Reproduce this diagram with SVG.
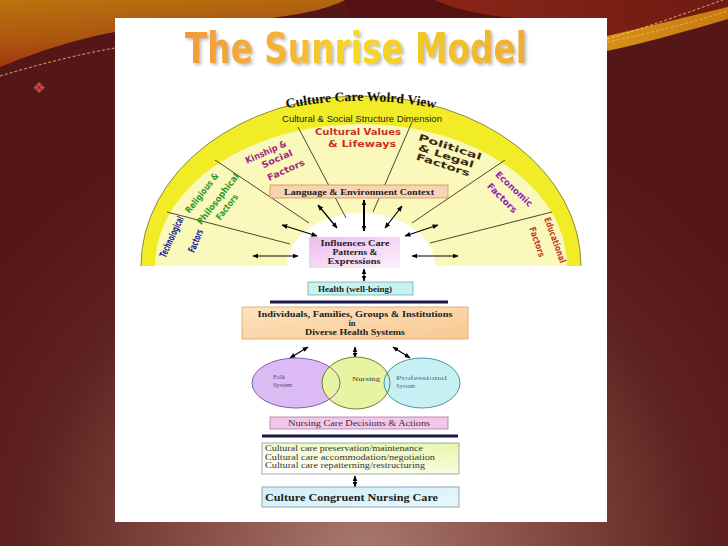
<svg xmlns="http://www.w3.org/2000/svg" width="728" height="546" viewBox="0 0 728 546">
<defs>
<radialGradient id="gBase" cx="364" cy="560" r="470" gradientUnits="userSpaceOnUse">
<stop offset="0" stop-color="#a87a70"/><stop offset="0.35" stop-color="#8a4e48"/><stop offset="0.72" stop-color="#5e2220"/><stop offset="1" stop-color="#541616"/>
</radialGradient>
<linearGradient id="gOrange" x1="0" y1="0" x2="0.3" y2="1">
<stop offset="0" stop-color="#b8740e"/><stop offset="0.6" stop-color="#ac5410"/><stop offset="1" stop-color="#a03010"/>
</linearGradient>
<linearGradient id="gRed" x1="0" y1="0" x2="1" y2="0">
<stop offset="0" stop-color="#8a2618"/><stop offset="1" stop-color="#6e1a12"/>
</linearGradient>
<linearGradient id="gBand" x1="0" y1="0" x2="1" y2="0">
<stop offset="0" stop-color="#d8901a"/><stop offset="1" stop-color="#c87a10"/>
</linearGradient>
<linearGradient id="gTitle" x1="185" y1="0" x2="527" y2="0" gradientUnits="userSpaceOnUse">
<stop offset="0" stop-color="#f29a3c"/><stop offset="0.3" stop-color="#f6b434"/><stop offset="0.5" stop-color="#f8d824"/><stop offset="0.75" stop-color="#f2c428"/><stop offset="1" stop-color="#eeac36"/>
</linearGradient>
<linearGradient id="gPink" x1="0" y1="0" x2="1" y2="1">
<stop offset="0" stop-color="#eebcee"/><stop offset="1" stop-color="#fcf2fc"/>
</linearGradient>
<linearGradient id="gPeach" x1="0" y1="0" x2="1" y2="1">
<stop offset="0" stop-color="#fde4c0"/><stop offset="1" stop-color="#f8c890"/>
</linearGradient>
<linearGradient id="gCare" x1="1" y1="0" x2="0.2" y2="1">
<stop offset="0" stop-color="#e8f6a8"/><stop offset="1" stop-color="#ffffff"/>
</linearGradient>
<linearGradient id="gCyan" x1="0" y1="0" x2="1" y2="1">
<stop offset="0" stop-color="#d0eef8"/><stop offset="1" stop-color="#e8f8fc"/>
</linearGradient>
<filter id="shadow" x="-10%" y="-30%" width="120%" height="160%">
<feDropShadow dx="2" dy="2" stdDeviation="1.5" flood-color="#888" flood-opacity="0.55"/>
</filter>
<marker id="ah" viewBox="0 0 10 10" refX="9" refY="5" markerWidth="6" markerHeight="6" markerUnits="userSpaceOnUse" orient="auto-start-reverse">
<path d="M0,1 L10,5 L0,9 Z" fill="#000"/>
</marker>
<style>
.serifb{font-family:"Liberation Serif","DejaVu Serif",serif;font-weight:bold;fill:#222;}
.serif{font-family:"Liberation Serif","DejaVu Serif",serif;fill:#333;}
.fan{font-family:"DejaVu Sans","Liberation Sans",sans-serif;font-weight:bold;font-size:9px;text-anchor:middle;}
.spoke{stroke:#4a4a2a;stroke-width:1;fill:none;}
.arr{stroke:#000;stroke-width:1.2;fill:none;marker-start:url(#ah);marker-end:url(#ah);}
.small{font-family:"Liberation Serif","DejaVu Serif",serif;font-size:6.5px;}
</style>
</defs>

<!-- slide background -->
<rect x="0" y="0" width="728" height="546" fill="url(#gBase)"/>
<path d="M0,0 H345 C330,8 300,16 250,20 C190,24 150,27 115,32 C70,40 30,55 0,67 Z" fill="url(#gOrange)"/>
<path d="M345,0 H435 C455,9 480,15 515,18 H352 C349,10 347,5 345,0 Z" fill="#551212"/>
<path d="M435,0 H728 V8 C690,18 650,28 607,36 L560,22 C530,19 515,18 515,18 C480,15 455,9 435,0 Z" fill="url(#gRed)"/>
<path d="M607,36 C650,26 690,16 728,7 V19 C690,30 650,42 607,51 Z" fill="url(#gBand)"/>
<path d="M0,76 C40,64 80,54 115,48" stroke="#f0c868" stroke-width="0.8" stroke-dasharray="3 2" fill="none"/>
<path d="M607,39 C650,26 690,12 728,-2" stroke="#f0d070" stroke-width="0.8" stroke-dasharray="3 2" fill="none"/>
<path d="M607,42 C660,31 700,20 728,11" stroke="#f0d070" stroke-width="0.7" stroke-dasharray="3 2" fill="none" opacity="0.8"/>
<text x="39" y="93" font-family="DejaVu Sans, sans-serif" font-size="15" fill="#d84444" text-anchor="middle">❖</text>

<!-- white panel -->
<rect x="115" y="18" width="492" height="504" fill="#ffffff"/>

<!-- title -->
<g id="title">
<text x="185" y="63" font-family="DejaVu Sans, sans-serif" font-weight="bold" font-size="42" textLength="342" lengthAdjust="spacingAndGlyphs" fill="url(#gTitle)" filter="url(#shadow)">The Sunrise Model</text>
</g>

<!-- sunrise fan -->
<g id="fan">
<path d="M141,266 A220,170 0 0 1 581,266 Z" fill="#f2ec26"/>
<path d="M141,266 A220,170 0 0 1 581,266" fill="none" stroke="#707030" stroke-width="0.8"/>
<path d="M155,266 A206,142 0 0 1 567,266 Z" fill="#fbf8bc"/>
<path d="M287,266 A74,53 0 0 1 435,266 Z" fill="#ffffff"/>
</g>

<g id="connectors">
<line class="spoke" x1="167" y1="212" x2="290" y2="244"/>
<line class="spoke" x1="215" y1="160" x2="309" y2="223"/>
<line class="spoke" x1="298" y1="127" x2="346" y2="218"/>
<line class="spoke" x1="412" y1="122" x2="373" y2="212"/>
<line class="spoke" x1="505" y1="160" x2="412" y2="223"/>
<line class="spoke" x1="552" y1="212" x2="430" y2="243"/>
<line class="arr" x1="253" y1="256" x2="298" y2="256"/>
<line class="arr" x1="282" y1="225" x2="317" y2="236"/>
<line class="arr" x1="318" y1="205" x2="337" y2="228"/>
<line class="arr" x1="364" y1="200" x2="364" y2="231" style="stroke-width:2"/>
<line class="arr" x1="402" y1="206" x2="385" y2="228"/>
<line class="arr" x1="438" y1="225" x2="405" y2="236"/>
<line class="arr" x1="412" y1="256" x2="458" y2="256"/>
<line class="arr" x1="364" y1="269" x2="364" y2="281"/>
<line class="arr" x1="290" y1="358" x2="308" y2="347"/>
<line class="arr" x1="355" y1="347" x2="355" y2="358"/>
<line class="arr" x1="393" y1="347" x2="410" y2="358"/>
<line class="arr" x1="355" y1="476" x2="355" y2="487"/>
<line x1="270" y1="302" x2="448" y2="302" stroke="#1a1a4a" stroke-width="3"/>
<line x1="262" y1="436" x2="458" y2="436" stroke="#1a1a4a" stroke-width="3"/>
</g>

<!-- fan texts -->
<g id="worldview">
<path id="arcTop" d="M283,109 Q360,93 439,109" fill="none"/>
<text font-family="Liberation Serif, serif" font-weight="bold" font-size="13.5" fill="#111" text-anchor="middle"><textPath href="#arcTop" startOffset="50%" textLength="150" lengthAdjust="spacingAndGlyphs">Culture Care Wolrd View</textPath></text>
<text x="362" y="122" font-family="Liberation Sans, sans-serif" font-size="9.5" fill="#222" text-anchor="middle" textLength="160" lengthAdjust="spacingAndGlyphs">Cultural &amp; Social Structure Dimension</text>
</g>
<g id="cultural-values" class="fan" fill="#c8321e">
<text x="358" y="135" textLength="86" lengthAdjust="spacingAndGlyphs">Cultural Values</text>
<text x="362" y="147" textLength="68" lengthAdjust="spacingAndGlyphs">&amp; Lifeways</text>
</g>
<g id="kinship" class="fan" fill="#a02a80">
<text transform="translate(266,152) rotate(-24)" y="3" textLength="44" lengthAdjust="spacingAndGlyphs">Kinship &amp;</text>
<text transform="translate(277,159) rotate(-24)" y="3" textLength="33" lengthAdjust="spacingAndGlyphs">Social</text>
<text transform="translate(286,170) rotate(-24)" y="3" textLength="40" lengthAdjust="spacingAndGlyphs">Factors</text>
</g>
<g id="religious" class="fan" fill="#2c9a2c">
<text transform="translate(202,193) rotate(-52)" y="3" textLength="48" lengthAdjust="spacingAndGlyphs">Religious &amp;</text>
<text transform="translate(218,199) rotate(-52)" y="3" textLength="62" lengthAdjust="spacingAndGlyphs">Philosophical</text>
<text transform="translate(227,207) rotate(-52)" y="3" textLength="30" lengthAdjust="spacingAndGlyphs">Factors</text>
</g>
<g id="technological" class="fan" fill="#1c1ca0">
<text transform="translate(172,237) rotate(-65)" y="3" textLength="44" lengthAdjust="spacingAndGlyphs" style="font-size:10px">Technological</text>
<text transform="translate(196,241) rotate(-68)" y="3" textLength="24" lengthAdjust="spacingAndGlyphs" style="font-size:10px">Factors</text>
</g>
<g id="political" class="fan" fill="#3a2a10">
<text transform="translate(450,147) rotate(18)" y="3" textLength="66" lengthAdjust="spacingAndGlyphs">Political</text>
<text transform="translate(446,156) rotate(18)" y="3" textLength="58" lengthAdjust="spacingAndGlyphs">&amp; Legal</text>
<text transform="translate(443,165) rotate(18)" y="3" textLength="56" lengthAdjust="spacingAndGlyphs">Factors</text>
</g>
<g id="economic" class="fan" fill="#8a2ab0">
<text transform="translate(514,189) rotate(43)" y="3" textLength="47" lengthAdjust="spacingAndGlyphs">Economic</text>
<text transform="translate(502,198) rotate(45)" y="3" textLength="38" lengthAdjust="spacingAndGlyphs">Factors</text>
</g>
<g id="educational" class="fan" fill="#c0401a">
<text transform="translate(555,240) rotate(70)" y="3" textLength="48" lengthAdjust="spacingAndGlyphs">Educational</text>
<text transform="translate(537,242) rotate(71)" y="3" textLength="31" lengthAdjust="spacingAndGlyphs">Factors</text>
</g>

<!-- boxes -->
<g id="language">
<rect x="270" y="185" width="178" height="13" fill="#f8d4b4" stroke="#d88c58" stroke-width="0.8"/>
<text class="serifb" x="359" y="194.5" font-size="8.5" text-anchor="middle" textLength="150" lengthAdjust="spacingAndGlyphs">Language &amp; Environment Context</text>
</g>
<g id="influences">
<rect x="309" y="237" width="91" height="31" fill="url(#gPink)"/>
<text class="serifb" x="355" y="246" font-size="8.5" text-anchor="middle" textLength="69" lengthAdjust="spacingAndGlyphs">Influences Care</text>
<text class="serifb" x="355" y="255" font-size="8.5" text-anchor="middle" textLength="45" lengthAdjust="spacingAndGlyphs">Patterns &amp;</text>
<text class="serifb" x="354" y="264" font-size="8.5" text-anchor="middle" textLength="53" lengthAdjust="spacingAndGlyphs">Expressions</text>
</g>
<g id="health">
<rect x="308" y="282" width="105" height="13" fill="#c8f2ee" stroke="#68b4b0" stroke-width="0.8"/>
<text class="serifb" x="355" y="292" font-size="8.5" text-anchor="middle" textLength="74" lengthAdjust="spacingAndGlyphs">Health (well-being)</text>
</g>
<g id="individuals">
<rect x="242" y="307" width="226" height="32" fill="url(#gPeach)" stroke="#e0a060" stroke-width="0.8"/>
<text class="serifb" x="355" y="317" font-size="8.5" text-anchor="middle" textLength="195" lengthAdjust="spacingAndGlyphs">Individuals, Families, Groups &amp; Institutions</text>
<text class="serifb" x="352" y="326" font-size="8.5" text-anchor="middle">in</text>
<text class="serifb" x="355" y="335" font-size="8.5" text-anchor="middle" textLength="100" lengthAdjust="spacingAndGlyphs">Diverse Health Systems</text>
</g>
<g id="folk">
<ellipse cx="296" cy="383" rx="44" ry="25" fill="#dcbaf4"/>
</g>
<g id="nursing">
<ellipse cx="356" cy="383" rx="34" ry="26" fill="#e8f4a2"/>
</g>
<g id="professional">
<ellipse cx="422" cy="383" rx="38" ry="25" fill="#c6f0f4"/>
</g>
<g id="circle-outlines" fill="none">
<ellipse cx="296" cy="383" rx="44" ry="25" stroke="#7a62a8" stroke-width="1"/>
<ellipse cx="356" cy="383" rx="34" ry="26" stroke="#6e7e30" stroke-width="1"/>
<ellipse cx="422" cy="383" rx="38" ry="25" stroke="#4a94a4" stroke-width="1"/>
</g>
<g id="circle-labels" class="small">
<text x="273" y="379" fill="#505070">Folk</text>
<text x="273" y="387" fill="#505070">System</text>
<text x="352" y="381" fill="#404030" textLength="28" lengthAdjust="spacingAndGlyphs">Nursing</text>
<text x="396" y="380" fill="#507080" textLength="51" lengthAdjust="spacingAndGlyphs">Professional</text>
<text x="396" y="388" fill="#507080">System</text>
</g>
<g id="decisions">
<rect x="270" y="417" width="178" height="12" fill="#f4c6ec" stroke="#a87aa8" stroke-width="0.8"/>
<text class="serif" x="359" y="426" font-size="8.5" text-anchor="middle" fill="#333" textLength="142" lengthAdjust="spacingAndGlyphs">Nursing Care Decisions &amp; Actions</text>
</g>
<g id="care-modes">
<rect x="262" y="443" width="197" height="31" fill="url(#gCare)" stroke="#8898a8" stroke-width="0.8"/>
<text class="serif" x="265" y="451" font-size="7.8" fill="#222" textLength="158" lengthAdjust="spacingAndGlyphs">Cultural care preservation/maintenance</text>
<text class="serif" x="265" y="459.5" font-size="7.8" fill="#222" textLength="170" lengthAdjust="spacingAndGlyphs">Cultural care accommodation/negotiation</text>
<text class="serif" x="265" y="468" font-size="7.8" fill="#222" textLength="160" lengthAdjust="spacingAndGlyphs">Cultural care repatterning/restructuring</text>
</g>
<g id="congruent">
<rect x="262" y="487" width="197" height="20" fill="url(#gCyan)" stroke="#7890a8" stroke-width="0.8"/>
<text class="serifb" x="265" y="501" font-size="10.5" fill="#1a1a2a" textLength="173" lengthAdjust="spacingAndGlyphs">Culture Congruent Nursing Care</text>
</g>
</svg>
